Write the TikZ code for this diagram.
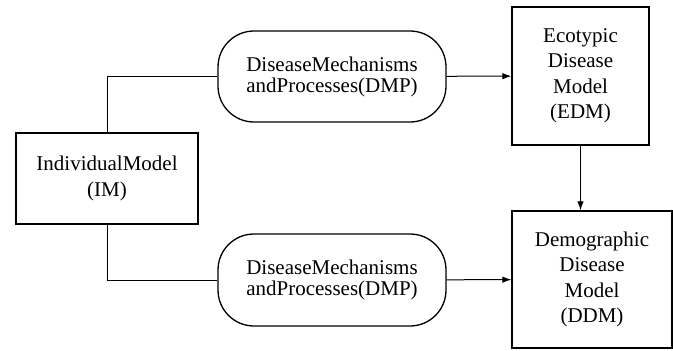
\documentclass[tikz,border=0pt]{standalone}
\usepackage{fontspec}
\setmainfont{Liberation Serif}
\usepackage{tikz}
\usetikzlibrary{arrows.meta}

\begin{document}
\begin{tikzpicture}[x=1pt,y=-1pt,line width=1pt,
    modell/.style={draw,line width=1.3pt,align=center,inner sep=0pt,
      font=\fontsize{21}{25.5}\selectfont},
    prozess/.style={modell,rounded corners=36pt,
      font=\fontsize{21}{21}\selectfont}]
  \useasboundingbox (0,0) rectangle (673,351);
  \node[modell,minimum width=182pt,minimum height=91pt] (im) at (107,178.5)
    {IndividualModel\\(IM)};
  \node[prozess,minimum width=228pt,minimum height=91pt] (dmp1) at (332,76.5)
    {DiseaseMechanisms\\andProcesses(DMP)};
  \node[prozess,minimum width=228pt,minimum height=92pt] (dmp2) at (332,280)
    {DiseaseMechanisms\\andProcesses(DMP)};
  \node[modell,minimum width=137pt,minimum height=138pt] (edm) at (580.5,76)
    {Ecotypic\\Disease\\Model\\(EDM)};
  \node[modell,minimum width=160pt,minimum height=137pt] (ddm) at (592,279.5)
    {Demographic\\Disease\\Model\\(DDM)};
  \draw (im.north) |- (dmp1.west);
  \draw (im.south) |- (dmp2.west);
  \path[-{Latex[length=9pt,width=6.5pt]}]
    (dmp1) edge (edm)
    (dmp2) edge (ddm)
    (edm.south) edge (edm.south |- ddm.north);
\end{tikzpicture}
\end{document}
